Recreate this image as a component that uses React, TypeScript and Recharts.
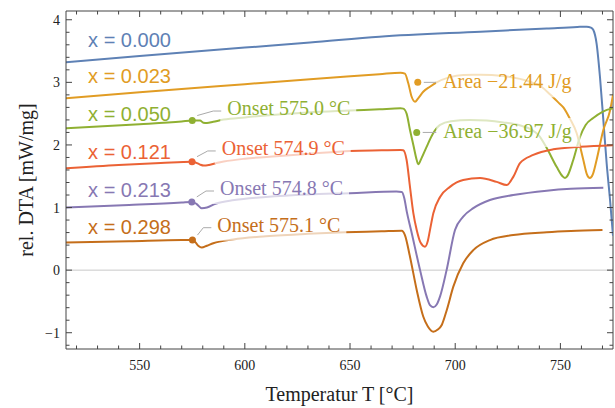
import React from 'react';
import {LineChart, Line, XAxis, YAxis, ReferenceLine, ReferenceDot} from 'recharts';

const WIDTH = 615;
const HEIGHT = 408;
const PLOT_TOP = 11;
const PLOT_RIGHT = 613;
const FRAME = '#444';
const SERIF = '"Liberation Serif", "Times New Roman", serif';
const SANS = '"Liberation Sans", Arial, sans-serif';

const xDomain = [515, 775];
const yDomain = [-1.26, 4.14];
const xTicks = [520, 530, 540, 550, 560, 570, 580, 590, 600, 610, 620, 630, 640, 650, 660, 670, 680, 690, 700, 710, 720, 730, 740, 750, 760, 770];
const xTickLabels = [550, 600, 650, 700, 750];
const yTicks = [-1.2, -1, -0.8, -0.6, -0.4, -0.2, 0, 0.2, 0.4, 0.6, 0.8, 1, 1.2, 1.4, 1.6, 1.8, 2, 2.2, 2.4, 2.6, 2.8, 3, 3.2, 3.4, 3.6, 3.8, 4];
const yTickLabels = [-1, 0, 1, 2, 3, 4];

const compositions = ['x = 0.000', 'x = 0.023', 'x = 0.050', 'x = 0.121', 'x = 0.213', 'x = 0.298'];
const colors = ['#5E81B5', '#E19C24', '#8FB032', '#EB6235', '#8778B3', '#C56E1A'];

// temperature [°C] / rel. DTA [mW/mg] for each composition
const t000 = [515, 550, 600, 631, 664, 712, 743.5, 758, 762.5, 764.5, 765.6, 767.2, 768.8, 770.4, 772, 773.6, 775];
const d000 = [3.32, 3.42, 3.555, 3.635, 3.73, 3.81, 3.86, 3.885, 3.89, 3.875, 3.84, 3.62, 3.09, 2.4, 1.7, 1.12, 0.55];

const t023 = [515, 550, 600, 631, 664, 674, 676.1, 677.7, 679.3, 680.9, 682.4, 684.8, 688, 691.2, 697, 703.8, 712, 722.8, 735.5, 741, 745, 749, 751.4, 754.5, 757.7, 760.9, 762.6, 764, 765.4, 767.2, 770.4, 773.6, 775];
const d023 = [2.745, 2.84, 2.97, 3.05, 3.13, 3.155, 3.14, 2.985, 2.77, 2.69, 2.745, 2.85, 2.93, 3.0, 3.08, 3.118, 3.12, 3.1, 3.01, 2.93, 2.81, 2.68, 2.6, 2.42, 2.19, 1.76, 1.53, 1.47, 1.53, 1.76, 2.24, 2.55, 2.8];

const t050 = [515, 550, 570, 575, 578.7, 580.3, 582, 585, 590, 600, 630, 650, 664, 674, 675.3, 676.9, 678.5, 680.1, 681.7, 682.4, 684, 686.4, 689.6, 692.8, 698, 707, 715, 722.8, 731, 736, 740, 743.5, 748.2, 751, 752.2, 753.4, 756.1, 759.3, 762, 765.6, 770, 775];
const d050 = [2.266, 2.33, 2.375, 2.39, 2.39, 2.355, 2.35, 2.37, 2.405, 2.44, 2.52, 2.55, 2.57, 2.585, 2.58, 2.5, 2.24, 2.0, 1.76, 1.69, 1.79, 1.97, 2.19, 2.32, 2.38, 2.4, 2.39, 2.36, 2.31, 2.25, 2.14, 1.95, 1.65, 1.5, 1.47, 1.51, 1.76, 2.13, 2.32, 2.43, 2.53, 2.585];

const t121 = [515, 540, 560, 574.9, 576.5, 578.5, 580.5, 583, 587, 590, 600, 615, 631, 650, 665, 674, 675.3, 676.9, 678.5, 680.1, 681.7, 683.5, 685.6, 687, 688, 689.6, 692.8, 697.5, 703.8, 711.8, 719.7, 724.5, 727.6, 730.8, 737.1, 746.6, 759.3, 775];
const d121 = [1.627, 1.68, 1.71, 1.733, 1.72, 1.69, 1.67, 1.68, 1.715, 1.735, 1.78, 1.82, 1.86, 1.905, 1.915, 1.92, 1.915, 1.76, 1.33, 0.91, 0.64, 0.44, 0.375, 0.47, 0.64, 0.91, 1.17, 1.33, 1.44, 1.47, 1.41, 1.36, 1.49, 1.71, 1.84, 1.93, 1.97, 1.995];

const t213 = [515, 545, 570, 574.8, 577, 579.5, 582, 586, 595, 610, 630, 650, 672, 674.6, 675.8, 677, 679, 683.3, 686.4, 688, 689.6, 691.2, 692.8, 695.9, 699.9, 703.8, 708.6, 716.5, 727.6, 743.5, 755, 770.4];
const d213 = [1.0, 1.04, 1.08, 1.09, 1.06, 0.99, 1.0, 1.06, 1.12, 1.17, 1.21, 1.23, 1.255, 1.25, 1.15, 0.93, 0.64, 0.0, -0.42, -0.56, -0.593, -0.55, -0.42, 0.0, 0.64, 0.855, 0.99, 1.12, 1.2, 1.27, 1.3, 1.317];

const t298 = [515, 545, 570, 575.1, 576.5, 578, 579.5, 582, 585, 594.5, 610, 630, 647.6, 665, 674.6, 676.1, 678.5, 681.7, 684.8, 687, 689.6, 691.7, 693.6, 696, 699.1, 703.8, 708.6, 716.5, 727.6, 743.5, 755, 770];
const d298 = [0.44, 0.46, 0.48, 0.48, 0.445, 0.385, 0.36, 0.39, 0.43, 0.49, 0.54, 0.58, 0.605, 0.62, 0.63, 0.56, 0.215, -0.317, -0.74, -0.9, -0.983, -0.95, -0.876, -0.636, -0.264, 0.11, 0.32, 0.48, 0.56, 0.605, 0.625, 0.64];

const temps = [t000, t023, t050, t121, t213, t298];
const dtas = [d000, d023, d050, d121, d213, d298];

// onset markers (series index, onset temperature, DTA at onset)
const onsetSeries = [2, 3, 4, 5];
const onsetTemps = [575.0, 574.9, 574.8, 575.1];
const onsetDta = [2.39, 1.733, 1.09, 0.48];

// peak area markers
const areaSeries = [1, 2];
const areaValues = [-21.44, -36.97];
const areaTemps = [682.2, 681.7];
const areaDta = [3.0, 2.2];

// where the composition names sit (data coordinates of the text start)
const nameT = 525.5;
const nameDta = [3.57, 2.985, 2.388, 1.771, 1.169, 0.573];

// label placement relative to the marker dot, in px
const onsetOffsets = [[35, -5.5], [29.7, -6.7], [28.2, -6.9], [24.9, -8.4]];
const areaOffsets = [[25.3, 6], [26.6, 5.6]];

const seriesData = temps.map((ts, i) => ts.map((t, j) => ({t, v: dtas[i][j]})));

const fmtMinus = (s: string) => s.replace('-', '\u2212');

function XTick(props: any) {
	const {x, y, payload} = props;
	const major = xTickLabels.includes(payload.value);
	const len = major ? 6 : 3.5;
	return (
		<g>
			<line x1={x} y1={y} x2={x} y2={y - len} stroke={FRAME}/>
			<line x1={x} y1={PLOT_TOP} x2={x} y2={PLOT_TOP + len} stroke={FRAME}/>
			{major && (
				<text x={x} y={y + 21} textAnchor='middle' fontFamily={SERIF} fontSize={14} fill='#222'>
					{payload.value}
				</text>
			)}
		</g>
	);
}

function YTick(props: any) {
	const {x, y, payload} = props;
	const major = yTickLabels.includes(payload.value);
	const len = major ? 6 : 3.5;
	return (
		<g>
			<line x1={x} y1={y} x2={x + len} y2={y} stroke={FRAME}/>
			<line x1={PLOT_RIGHT - len} y1={y} x2={PLOT_RIGHT} y2={y} stroke={FRAME}/>
			{major && (
				<text x={x - 6} y={y + 5} textAnchor='end' fontFamily={SERIF} fontSize={14} fill='#222'>
					{fmtMinus(String(payload.value))}
				</text>
			)}
		</g>
	);
}

const XTitle = (props: any) => {
	const vb = props.viewBox;
	return (
		<text x={vb.x + vb.width / 2} y={vb.y + 52} textAnchor='middle' fontFamily={SERIF} fontSize={20} fill='#222'>
			Temperatur T [°C]
		</text>
	);
};

const YTitle = (props: any) => {
	const vb = props.viewBox;
	return (
		<text
			transform={`translate(${vb.x + 33},${vb.y + vb.height / 2}) rotate(-90)`}
			textAnchor='middle'
			fontFamily={SERIF}
			fontSize={20}
			fill='#222'
		>
			rel. DTA [mW/mg]
		</text>
	);
};

// dot + grey leader + text on a translucent white patch that fades the curve below it
function noteShape(text: string, color: string, dx: number, dy: number, width: number, bent: boolean) {
	return (p: any) => {
		const {cx, cy} = p;
		const tx = cx + dx;
		const ty = cy + dy;
		const leader = bent
			? `M${cx + 5},${cy - 5} L${tx - 14},${ty - 4} L${tx - 6},${ty - 4}`
			: `M${cx + 6},${cy} L${tx - 7},${cy}`;
		return (
			<g>
				<rect x={tx - 7} y={ty - 20} width={width + 12} height={29} fill='#fff' fillOpacity={0.7}/>
				<path d={leader} stroke='#aaa' strokeWidth={1} fill='none'/>
				<circle cx={cx} cy={cy} r={3.5} fill={color}/>
				<text x={tx} y={ty} fontFamily={SERIF} fontSize={20} fill={color}>{text}</text>
			</g>
		);
	};
}

function nameShape(text: string, color: string) {
	return (p: any) => (
		<text x={p.cx} y={p.cy} fontFamily={SANS} fontSize={20} fill={color}>{text}</text>
	);
}

export default function App() {
	return (
		<div style={{position: 'absolute', left: 0, top: 0, background: '#fff'}}>
			<LineChart width={WIDTH} height={HEIGHT} margin={{top: PLOT_TOP, right: WIDTH - PLOT_RIGHT, bottom: 0, left: 0}}>
				<XAxis
					type='number'
					dataKey='t'
					domain={xDomain}
					allowDataOverflow
					ticks={xTicks}
					interval={0}
					tickSize={0}
					tickMargin={0}
					tickLine={false}
					tick={XTick}
					height={59}
					axisLine={{stroke: FRAME}}
					label={{content: XTitle}}
				/>
				<YAxis
					type='number'
					domain={yDomain}
					allowDataOverflow
					ticks={yTicks}
					interval={0}
					tickSize={0}
					tickMargin={0}
					tickLine={false}
					tick={YTick}
					width={66}
					axisLine={{stroke: FRAME}}
					label={{content: YTitle}}
				/>
				<ReferenceLine y={0} stroke='#c8c8c8' strokeWidth={1}/>
				<ReferenceLine y={yDomain[1]} stroke={FRAME} ifOverflow='visible'/>
				<ReferenceLine x={xDomain[1]} stroke={FRAME} ifOverflow='visible'/>
				{seriesData.map((d, i) => (
					<Line
						key={compositions[i]}
						data={d}
						dataKey='v'
						type='monotone'
						stroke={colors[i]}
						strokeWidth={2}
						dot={false}
						activeDot={false}
						isAnimationActive={false}
					/>
				))}
				{compositions.map((name, i) => (
					<ReferenceDot key={'n' + i} x={nameT} y={nameDta[i]} r={0} shape={nameShape(name, colors[i])}/>
				))}
				{onsetSeries.map((s, i) => (
					<ReferenceDot
						key={'o' + i}
						x={onsetTemps[i]}
						y={onsetDta[i]}
						r={3.5}
						shape={noteShape(`Onset ${onsetTemps[i].toFixed(1)} °C`, colors[s], onsetOffsets[i][0], onsetOffsets[i][1], 124, true)}
					/>
				))}
				{areaSeries.map((s, i) => (
					<ReferenceDot
						key={'a' + i}
						x={areaTemps[i]}
						y={areaDta[i]}
						r={3.5}
						shape={noteShape(`Area ${fmtMinus(areaValues[i].toFixed(2))} J/g`, colors[s], areaOffsets[i][0], areaOffsets[i][1], 132, false)}
					/>
				))}
			</LineChart>
		</div>
	);
}
